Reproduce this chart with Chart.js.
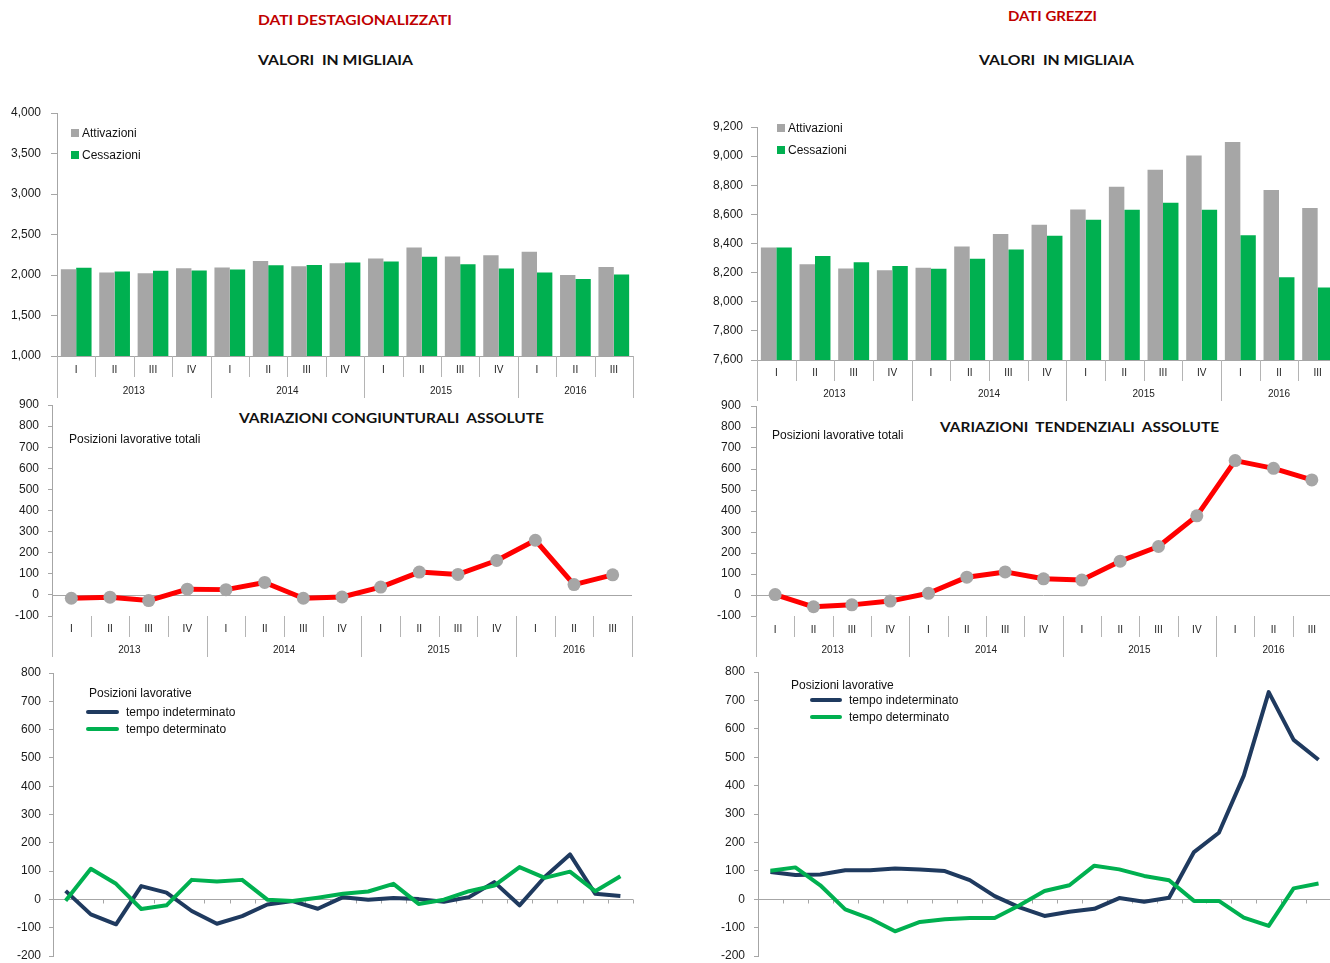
<!DOCTYPE html>
<html><head><meta charset="utf-8">
<script src="https://cdn.jsdelivr.net/npm/chart.js@4.4.0/dist/chart.umd.min.js"></script>
<style>
html,body{margin:0;padding:0;background:#fff;width:1330px;height:963px;overflow:hidden;position:relative}
canvas{position:absolute}
.t{position:absolute;font-family:Lato,"Open Sans",sans-serif;font-weight:700;font-size:13px;line-height:14px;white-space:pre;transform-origin:0 50%;color:#111}
.lg{position:absolute;font-family:"Liberation Sans",Arial,sans-serif;font-size:12px;line-height:14px;color:#111;white-space:pre}
.sw{position:absolute}
</style></head><body>

<div class="t" data-x0="258" data-x1="452" data-cy="20.5" style="color:#c00000">DATI DESTAGIONALIZZATI</div>
<div class="t" data-x0="258" data-x1="413" data-cy="60">VALORI  IN MIGLIAIA</div>
<div class="t" data-x0="1008" data-x1="1097" data-cy="16" style="color:#c00000">DATI GREZZI</div>
<div class="t" data-x0="979" data-x1="1134" data-cy="60">VALORI  IN MIGLIAIA</div>
<div class="t" data-x0="239" data-x1="544" data-cy="418">VARIAZIONI CONGIUNTURALI  ASSOLUTE</div>
<div class="t" data-x0="940" data-x1="1219" data-cy="427">VARIAZIONI  TENDENZIALI  ASSOLUTE</div>

<canvas id="tl" width="645" height="317" style="left:0;top:93px"></canvas>
<canvas id="tr" width="640" height="308" style="left:700px;top:107px"></canvas>
<canvas id="ml" width="645" height="280" style="left:0;top:385px"></canvas>
<canvas id="mr" width="640" height="280" style="left:700px;top:386px"></canvas>
<canvas id="bl" width="645" height="323" style="left:0;top:653px"></canvas>
<canvas id="br" width="640" height="324" style="left:700px;top:652px"></canvas>

<div id="legends"></div>

<script>
// ---------- DATA ----------
const quarterLabels = ['I','II','III','IV','I','II','III','IV','I','II','III','IV','I','II','III'];
const quarterYears  = ['2013','2013','2013','2013','2014','2014','2014','2014','2015','2015','2015','2015','2016','2016','2016'];

const destAttivazioni = [2071,2030,2022,2084,2092,2174,2108,2145,2203,2339,2228,2244,2286,2001,2100];
const destCessazioni  = [2088,2042,2051,2055,2067,2121,2125,2154,2166,2224,2133,2080,2030,1952,2005];

const grezAttivazioni = [8372,8258,8228,8217,8233,8379,8466,8528,8634,8790,8907,9005,9097,8767,8643];
const grezCessazioni  = [8372,8315,8272,8246,8226,8295,8359,8453,8563,8632,8680,8632,8457,8168,8097];

const varCongiunturali = [-16,-11,-27,27,25,59,-16,-10,37,108,97,163,259,49,95];
const varTendenziali   = [2,-56,-47,-29,8,85,110,77,71,161,231,377,640,603,548];

const periodLabels = ['1','2','3','4','5','6','7','8','9','10','11','12','13','14','15','16','17','18','19','20','21','22','23'];
const congIndeterminato = [30,-53,-88,47,24,-41,-86,-59,-18,-6,-33,8,-1,5,1,-8,8,61,-21,79,159,20,12];
const congDeterminato   = [-5,108,55,-34,-21,69,63,69,-1,-6,6,20,28,55,-16,-1,29,49,114,76,98,29,82];
const tendIndeterminato = [96,85,87,102,102,108,105,99,67,11,-29,-59,-44,-34,4,-9,5,166,234,435,729,561,491];
const tendDeterminato   = [100,112,49,-36,-68,-113,-80,-71,-66,-66,-21,29,49,118,105,82,67,-6,-6,-65,-94,38,55];

// ---------- STYLE ----------
const GRAY = '#a6a6a6', GREEN = '#00b050', NAVY = '#1f3a5f', RED = '#ff0000', AXIS = '#a6a6a6';
const FONT = '"Liberation Sans", Arial, sans-serif';

const catAxis = {
  id: 'catAxis',
  beforeDatasetsDraw(chart, args, o) {
    if (!o || !o.enabled) return;
    const ctx = chart.ctx, x = chart.scales.x, y = chart.scales.y, a = chart.chartArea;
    const n = chart.data.labels.length;
    const ln = (x1,y1,x2,y2)=>{ctx.beginPath();ctx.moveTo(x1,y1);ctx.lineTo(x2,y2);ctx.stroke();};
    ctx.save();
    ctx.strokeStyle = AXIS; ctx.lineWidth = 1;
    const zy = Math.round(y.getPixelForValue(o.baseValue)) + 0.5;
    ln(a.left, zy, a.right, zy);
    if (o.ticksBelow) {
      for (let i = 1; i <= n; i++) {
        const bx = Math.round(x.getPixelForValue(i - 0.5)) + 0.5;
        ln(bx, zy, bx, zy + o.ticksBelow);
      }
    }
    if (o.quarters) {
      ctx.strokeStyle = '#b4b4b4';
      for (let i = 0; i <= n; i++) {
        const bx = Math.round(x.getPixelForValue(i - 0.5)) + 0.5;
        const isYear = i === 0 || i === n || o.years[i] !== o.years[i-1];
        ln(bx, a.bottom, bx, a.bottom + (isYear ? o.yLen : o.qLen));
      }
      ctx.fillStyle = '#222';
      ctx.textAlign = 'center'; ctx.textBaseline = 'middle';
      ctx.font = '10px ' + FONT;
      for (let i = 0; i < n; i++) ctx.fillText(o.quarters[i], x.getPixelForValue(i), a.bottom + o.qDy);
      let s = 0;
      for (let i = 1; i <= n; i++) {
        if (i === n || o.years[i] !== o.years[i-1]) {
          const cx = (x.getPixelForValue(s - 0.5) + x.getPixelForValue(i - 0.5)) / 2;
          ctx.fillText(o.years[s], cx, a.bottom + o.yDy);
          s = i;
        }
      }
    }
    ctx.restore();
  }
};

function yAxis(min, max, step, tick, pad, width, fmt) {
  return {
    min, max,
    ticks: { stepSize: step, color: '#1a1a1a', font: { family: FONT, size: 12 }, padding: pad,
             callback: v => fmt ? v.toLocaleString('en-US') : String(v) },
    border: { color: AXIS, width: 1 },
    grid: { drawOnChartArea: false, tickLength: tick, color: AXIS, lineWidth: 1 },
    afterFit(s) { s.width = width; }
  };
}

function make(id, type, labels, datasets, pad, y, axisOpts) {
  return new Chart(document.getElementById(id), {
    type,
    data: { labels, datasets },
    options: {
      responsive: false, animation: false, devicePixelRatio: 1,
      layout: { padding: pad },
      scales: { x: { display: false, offset: true }, y },
      plugins: { legend: { display: false }, tooltip: { enabled: false }, catAxis: axisOpts }
    },
    plugins: [catAxis]
  });
}

const barDs = (label, data, color) => ({ label, data, backgroundColor: color, borderWidth: 0,
  categoryPercentage: 0.8, barPercentage: 1.0 });

const quarterAxis = (qLen, yLen, qDy, yDy) => ({ enabled: true, baseValue: null, quarters: quarterLabels,
  years: quarterYears, qLen, yLen, qDy, yDy });

// Top-left: destagionalizzati (area 57..633 x 113..356)
make('tl', 'bar', quarterLabels,
  [barDs('Attivazioni', destAttivazioni, GRAY), barDs('Cessazioni', destCessazioni, GREEN)],
  { left: 0, top: 20, right: 12, bottom: 54 },
  yAxis(1000, 4000, 500, 6, 10, 57, true),
  Object.assign(quarterAxis(21, 42, 14, 35), { baseValue: 1000 }));

// Top-right: grezzi (area 757..1337 x 127..360)
make('tr', 'bar', quarterLabels,
  [barDs('Attivazioni', grezAttivazioni, GRAY), barDs('Cessazioni', grezCessazioni, GREEN)],
  { left: 0, top: 20, right: 3, bottom: 55 },
  yAxis(7600, 9200, 200, 6, 8, 57, true),
  Object.assign(quarterAxis(21, 41, 13, 34), { baseValue: 7600 }));

const redLine = (data) => ({ label: 'Posizioni lavorative totali', data, borderColor: RED, borderWidth: 5,
  pointRadius: 6.5, pointBackgroundColor: GRAY, pointBorderWidth: 0, tension: 0, borderJoinStyle: 'round' });

make('ml', 'line', quarterLabels, [redLine(varCongiunturali)],
  { left: 0, top: 20, right: 13, bottom: 49 },
  yAxis(-100, 900, 100, 4, 9, 52, false),
  Object.assign(quarterAxis(21, 41, 13, 34), { baseValue: 0 }));

make('mr', 'line', quarterLabels, [redLine(varTendenziali)],
  { left: 0, top: 20, right: 9, bottom: 50 },
  yAxis(-100, 900, 100, 5, 10, 56, false),
  Object.assign(quarterAxis(21, 41, 14, 34), { baseValue: 0 }));

const thinLine = (label, data, color, order) => ({ label, data, borderColor: color, borderWidth: 4,
  pointRadius: 0, tension: 0, order, borderJoinStyle: 'round' });

make('bl', 'line', periodLabels,
  [thinLine('tempo indeterminato', congIndeterminato, NAVY, 1), thinLine('tempo determinato', congDeterminato, GREEN, 0)],
  { left: 0, top: 20, right: 12, bottom: 20 },
  yAxis(-200, 800, 100, 4, 8, 53, false),
  { enabled: true, baseValue: 0, ticksBelow: 4 });

make('br', 'line', periodLabels,
  [thinLine('tempo indeterminato', tendIndeterminato, NAVY, 1), thinLine('tempo determinato', tendDeterminato, GREEN, 0)],
  { left: 0, top: 20, right: 9, bottom: 20 },
  yAxis(-200, 800, 100, 4, 9, 58, false),
  { enabled: true, baseValue: 0, ticksBelow: 4 });

// ---------- LEGENDS / NOTES (HTML text) ----------
const L = document.getElementById('legends');
function txt(s, x, cy) { const d = document.createElement('div'); d.className = 'lg'; d.textContent = s;
  d.style.left = x + 'px'; d.style.top = (cy - 7) + 'px'; L.appendChild(d); }
function sq(color, x, y, w, h, r) { const d = document.createElement('div'); d.className = 'sw';
  Object.assign(d.style, { left: x + 'px', top: y + 'px', width: w + 'px', height: h + 'px', background: color, borderRadius: (r||0) + 'px' });
  L.appendChild(d); }

sq(GRAY, 71, 129, 8, 8); txt('Attivazioni', 82, 133);
sq(GREEN, 71, 151, 8, 8); txt('Cessazioni', 82, 155);
sq(GRAY, 777, 124, 8, 8); txt('Attivazioni', 788, 128);
sq(GREEN, 777, 146, 8, 8); txt('Cessazioni', 788, 150);
txt('Posizioni lavorative totali', 69, 439);
txt('Posizioni lavorative totali', 772, 435);
txt('Posizioni lavorative', 89, 693);
sq(NAVY, 86, 710, 33, 4, 2); txt('tempo indeterminato', 126, 712);
sq(GREEN, 86, 727, 33, 4, 2); txt('tempo determinato', 126, 729);
txt('Posizioni lavorative', 791, 685);
sq(NAVY, 810, 698, 32, 4, 2); txt('tempo indeterminato', 849, 700);
sq(GREEN, 810, 715, 32, 4, 2); txt('tempo determinato', 849, 717);

// fit titles
document.querySelectorAll('.t').forEach(el => {
  const x0 = +el.dataset.x0, x1 = +el.dataset.x1, cy = +el.dataset.cy;
  const w = el.getBoundingClientRect().width;
  el.style.left = x0 + 'px';
  el.style.top = (cy - 7.4) + 'px';
  el.style.transform = 'scaleX(' + ((x1 - x0) / w) + ')';
});
</script>
</body></html>
